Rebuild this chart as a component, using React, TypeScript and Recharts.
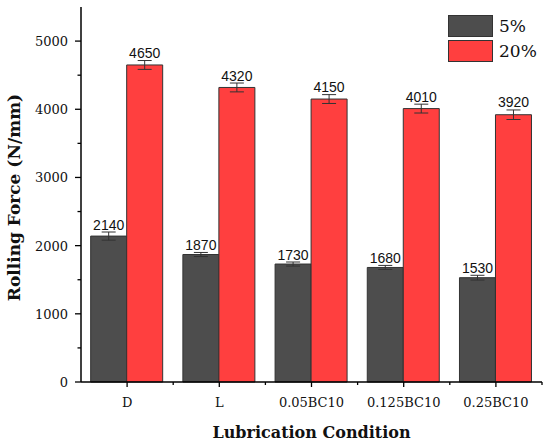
import { Bar, BarChart, ErrorBar, LabelList, Legend, XAxis, YAxis } from "recharts";

const conditions = ["D", "L", "0.05BC10", "0.125BC10", "0.25BC10"];
const force5 = [2140, 1870, 1730, 1680, 1530];
const force20 = [4650, 4320, 4150, 4010, 3920];
const err5 = [60, 30, 30, 30, 35];
const err20 = [65, 65, 65, 65, 70];
const yTicks = [0, 500, 1000, 1500, 2000, 2500, 3000, 3500, 4000, 4500, 5000];
const legendItems = [
  { label: "5%", color: "#4d4d4d" },
  { label: "20%", color: "#ff3f3f" },
];

const data = conditions.map((name, i) => ({
  name,
  f5: force5[i],
  f20: force20[i],
  e5: err5[i],
  e20: err20[i],
}));

const SERIF = "'DejaVu Serif', serif";

function YTick(props: any) {
  const { x, y, payload } = props;
  const major = payload.value % 1000 === 0;
  return (
    <g>
      <line x1={x} x2={x - (major ? 6 : 3.5)} y1={y} y2={y} stroke="#000" strokeWidth={1.3} />
      {major && (
        <text x={x - 13} y={y + 5} textAnchor="end" fontFamily={SERIF} fontSize={13} fill="#111">
          {payload.value}
        </text>
      )}
    </g>
  );
}

function XTick(props: any) {
  const { x, y, payload } = props;
  const half = payload.offset || 46.1;
  return (
    <g>
      <line x1={x} x2={x} y1={y} y2={y + 5} stroke="#000" strokeWidth={1.3} />
      <line x1={x + half} x2={x + half} y1={y} y2={y + 3} stroke="#000" strokeWidth={1.3} />
      <text x={x} y={y + 25} textAnchor="middle" fontFamily={SERIF} fontSize={13} fill="#111">
        {payload.value}
      </text>
    </g>
  );
}

const valueLabel = (errs: number[]) => (props: any) => {
  const { x, y, width, height, value, index } = props;
  const perUnit = Number(height) / Number(value);
  const top = Number(y) - errs[index ?? 0] * perUnit;
  return (
    <text
      x={Number(x) + Number(width) / 2}
      y={top - 2.5}
      textAnchor="middle"
      fontFamily="'Liberation Sans', Arial, sans-serif"
      fontSize={14}
      fill="#111"
    >
      {value}
    </text>
  );
};

function LegendBox() {
  return (
    <div style={{ fontFamily: SERIF, fontSize: 17, color: "#111" }}>
      {legendItems.map((item) => (
        <div key={item.label} style={{ display: "flex", alignItems: "center", height: 22, marginBottom: 3 }}>
          <span
            style={{
              display: "inline-block",
              width: 45,
              height: 22,
              boxSizing: "border-box",
              background: item.color,
              border: "1px solid #333",
            }}
          />
          <span style={{ marginLeft: 6, lineHeight: "22px" }}>{item.label}</span>
        </div>
      ))}
    </div>
  );
}

export default function App() {
  return (
    <div style={{ position: "absolute", left: 0, top: 0, width: 550, height: 446, background: "#fff" }}>
      <BarChart
        width={550}
        height={446}
        data={data}
        margin={{ top: 7, right: 8, left: 0, bottom: 0 }}
        barCategoryGap="10.5%"
        barGap={0}
      >
        <XAxis
          dataKey="name"
          interval={0}
          tickSize={0}
          tickMargin={0}
          tick={<XTick />}
          height={64}
          axisLine={{ stroke: "#000", strokeWidth: 1.5 }}
          label={{
            value: "Lubrication Condition",
            position: "insideBottom",
            offset: 8,
            fontFamily: SERIF,
            fontSize: 16,
            fontWeight: "bold",
            fill: "#111",
          }}
        />
        <XAxis
          xAxisId="top"
          orientation="top"
          dataKey="name"
          height={0}
          tick={false}
          tickLine={false}
          axisLine={{ stroke: "#000", strokeWidth: 1.5 }}
        />
        <YAxis
          domain={[0, 5500]}
          ticks={yTicks}
          interval={0}
          tickSize={0}
          tickMargin={0}
          tick={<YTick />}
          width={81}
          axisLine={{ stroke: "#000", strokeWidth: 1.5 }}
          label={{
            value: "Rolling Force (N/mm)",
            angle: -90,
            position: "insideLeft",
            offset: 14,
            dy: 3,
            style: { textAnchor: "middle" },
            fontFamily: SERIF,
            fontSize: 17,
            fontWeight: "bold",
            fill: "#111",
          }}
        />
        <YAxis
          yAxisId="right"
          orientation="right"
          domain={[0, 5500]}
          width={0}
          tick={false}
          tickLine={false}
          axisLine={{ stroke: "#000", strokeWidth: 1.5 }}
        />
        <Legend
          layout="vertical"
          align="center"
          verticalAlign="middle"
          content={<LegendBox />}
          wrapperStyle={{ top: 15, left: 448, width: 100 }}
        />
        <Bar dataKey="f5" name="5%" fill="#4d4d4d" stroke="#333" strokeWidth={1} isAnimationActive={false}>
          <ErrorBar dataKey="e5" width={7} stroke="#333" strokeWidth={1} direction="y" isAnimationActive={false} />
          <LabelList dataKey="f5" content={valueLabel(err5)} />
        </Bar>
        <Bar dataKey="f20" name="20%" fill="#ff3f3f" stroke="#333" strokeWidth={1} isAnimationActive={false}>
          <ErrorBar dataKey="e20" width={7} stroke="#333" strokeWidth={1} direction="y" isAnimationActive={false} />
          <LabelList dataKey="f20" content={valueLabel(err20)} />
        </Bar>
      </BarChart>
    </div>
  );
}
